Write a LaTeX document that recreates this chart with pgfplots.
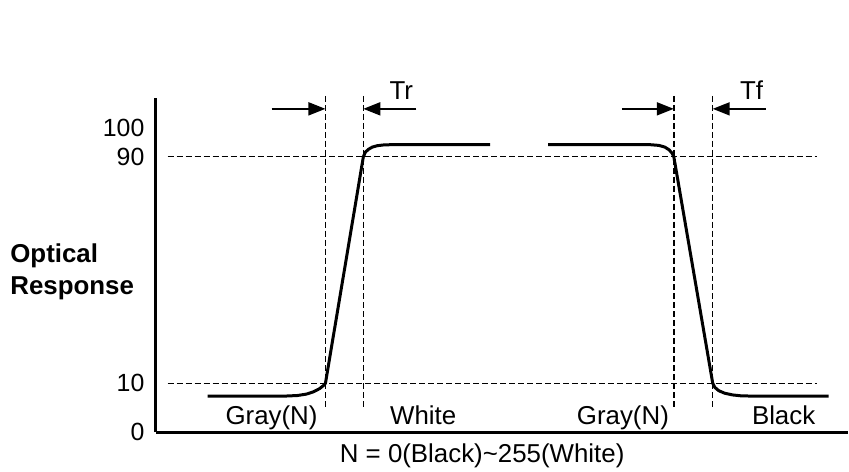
\documentclass[border=0pt]{standalone}
\usepackage{pgfplots}
\pgfplotsset{compat=1.18}
\usepackage{fontspec}
\setmainfont{Liberation Sans}
\usetikzlibrary{arrows.meta}
\begin{document}
\begin{tikzpicture}
\tikzset{
  guide/.style={black,line width=0.7bp,dash pattern=on 3bp off 1.5bp},
  timearrow/.style={black,line width=0.9bp,-{Triangle[length=8.5bp,width=6.5bp]}},
  lbl/.style={font=\fontsize{13}{15}\selectfont,inner sep=0pt,anchor=base}
}
\begin{axis}[
  scale only axis,
  width=346.5bp,height=167.5bp,
  xmin=156,xmax=849,
  ymin=-7.27,ymax=110.79,
  axis x line*=bottom,axis y line*=left,
  axis line style={line width=1.5bp,-},
  xtick=\empty,
  ytick={-7.27,10,90,100},
  yticklabels={0,10,90,100},
  major tick length=0pt,
  yticklabel style={font=\fontsize{12.5}{14}\selectfont,inner sep=0pt,xshift=-5.5bp},
  /pgf/number format/assume math mode=true,
  clip=false]
% page frame
\path (axis cs:0,145.33) rectangle (axis cs:849,-21.01);
% guide lines at 10 and 90
\addplot[guide] coordinates {(168,90) (818,90)};
\addplot[guide] coordinates {(168,10) (818,10)};
% vertical guides
\addplot[guide] coordinates {(326,111.5) (326,1.54)};
\addplot[guide] coordinates {(364,111.5) (364,1.54)};
\addplot[guide] coordinates {(675,111.5) (675,1.54)};
\addplot[guide] coordinates {(714,111.5) (714,1.54)};
% rising response
\addplot[black,line width=1.5bp,line join=round] coordinates {
  (208,5.52) (287,5.52) (298,5.7) (307,6.2) (314,7.0) (320,8.1) (324,9.2) (326,10)
  (364,90) (366,91.6) (369,92.6) (373,93.4) (378,93.9) (384,94.15) (390,94.23) (491,94.23)};
% falling response
\addplot[black,line width=1.5bp,line join=round] coordinates {
  (549,94.23) (652,94.23) (660,94.0) (666,93.4) (670,92.5) (673,91.4) (675,90)
  (714,10) (716,8.6) (720,7.4) (726,6.5) (734,5.9) (742,5.6) (750,5.52) (830,5.52)};
% time arrows
\draw[timearrow] (axis cs:272,106.9) -- (axis cs:326,106.9);
\draw[timearrow] (axis cs:417,106.9) -- (axis cs:364,106.9);
\draw[timearrow] (axis cs:623,106.9) -- (axis cs:675,106.9);
\draw[timearrow] (axis cs:767,106.9) -- (axis cs:714,106.9);
\node[lbl] at (axis cs:402,110.09) {Tr};
\node[lbl] at (axis cs:753,110.09) {Tf};
% state labels
\node[lbl] at (axis cs:272,-4.45) {Gray(N)};
\node[lbl] at (axis cs:424,-4.45) {White};
\node[lbl] at (axis cs:624,-4.45) {Gray(N)};
\node[lbl] at (axis cs:785,-4.45) {Black};
\node[lbl] at (axis cs:483,-17.84) {N = 0(Black)\textasciitilde255(White)};
% y label
\node[lbl,anchor=base west,font=\bfseries\fontsize{13}{15}\selectfont] at (axis cs:10,52.64) {Optical};
\node[lbl,anchor=base west,font=\bfseries\fontsize{13}{15}\selectfont] at (axis cs:10,41.37) {Response};
\end{axis}
\end{tikzpicture}
\end{document}
